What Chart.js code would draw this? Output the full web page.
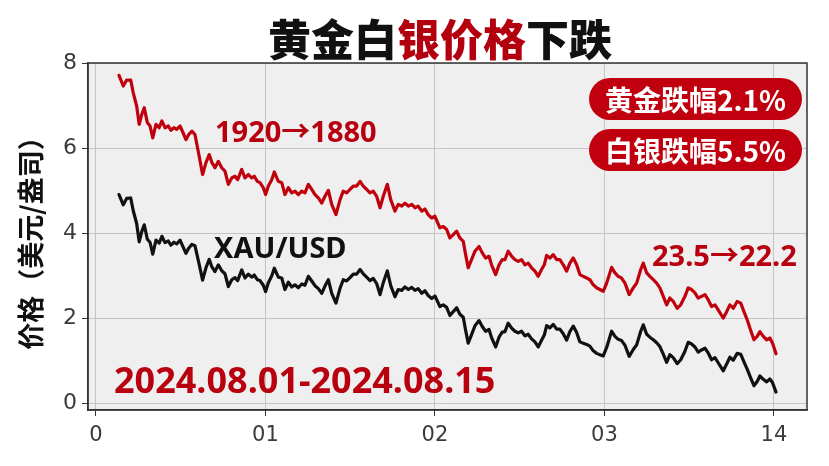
<!DOCTYPE html>
<html>
<head>
<meta charset="utf-8">
<script src="https://cdn.jsdelivr.net/npm/chart.js@4.4.1/dist/chart.umd.min.js"></script>
<style>
  html, body { margin:0; padding:0; background:#ffffff; }
  #wrap { position:relative; width:829px; height:466px; overflow:hidden; }
  canvas { position:absolute; left:0; top:0; }
  .t { position:absolute; white-space:nowrap; line-height:1; }
  #title { left:440px; top:16px; transform:translateX(-50%); font-family:"Noto Sans CJK SC"; font-weight:900; font-size:43px; color:#111; }
  #title .r { color:#b3000e; }
  .ann { font-family:"Noto Sans","Noto Sans CJK SC",sans-serif; font-weight:700; font-size:29px; }
  .red { color:#b8000f; }
  .blk { color:#111; }
  .badge { position:absolute; left:589px; width:213px; height:42px; border-radius:21px; background:#c0000e; color:#fff;
           font-family:"Noto Sans CJK SC"; font-weight:700; font-size:28px; line-height:42px; text-align:center; white-space:nowrap; }
</style>
</head>
<body>
<div id="wrap">
  <canvas id="c" width="829" height="466"></canvas>
  <div id="title" class="t">黄金白<span class="r">银价格</span>下跌</div>
  <div class="badge" style="top:78px;">黄金跌幅2.1%</div>
  <div class="badge" style="top:129px;">白银跌幅5.5%</div>
  <div class="t ann red" style="left:215px; top:116px;">1920→1880</div>
  <div class="t ann blk" style="left:214px; top:232px;">XAU/USD</div>
  <div class="t ann red" style="left:652px; top:240px;">23.5→22.2</div>
  <div class="t ann red" style="left:114px; top:362px; font-size:36px;">2024.08.01-2024.08.15</div>
</div>
<script>
const xTickLabels = ['0', '01', '02', '03', '14'];
const yAxisTitle = '价格（美元/盎司）';

const dayPos = [
  0.136,0.161,0.181,0.205,0.220,0.240,0.255,0.270,0.285,0.303,
  0.319,0.335,0.354,0.373,0.389,0.407,0.427,0.442,0.460,0.476,
  0.496,0.515,0.531,0.547,0.566,0.584,0.609,0.629,0.649,0.668,
  0.684,0.702,0.722,0.742,0.761,0.781,0.801,0.820,0.836,0.860,
  0.879,0.899,0.919,0.934,0.952,0.968,0.987,1.001,1.017,1.037,
  1.052,1.076,1.096,1.115,1.135,1.155,1.174,1.194,1.214,1.233,
  1.253,1.273,1.292,1.312,1.332,1.351,1.371,1.391,1.416,1.440,
  1.459,1.479,1.499,1.518,1.538,1.558,1.577,1.597,1.617,1.636,
  1.656,1.676,1.695,1.719,1.739,1.764,1.783,1.804,1.823,1.843,
  1.863,1.882,1.901,1.922,1.941,1.960,1.981,2.000,2.029,2.049,
  2.069,2.088,2.108,2.128,2.147,2.167,2.181,2.196,2.216,2.236,
  2.260,2.279,2.299,2.319,2.334,2.358,2.378,2.397,2.413,2.432,
  2.453,2.472,2.491,2.511,2.531,2.550,2.570,2.590,2.609,2.629,
  2.645,2.659,2.678,2.698,2.718,2.737,2.757,2.777,2.796,2.816,
  2.836,2.855,2.875,2.895,2.914,2.934,2.954,2.973,2.993,3.013,
  3.042,3.062,3.081,3.101,3.121,3.146,3.170,3.190,3.214,3.229,
  3.249,3.268,3.288,3.308,3.327,3.347,3.367,3.386,3.406,3.429,
  3.450,3.475,3.494,3.514,3.534,3.553,3.573,3.593,3.612,3.632,
  3.652,3.671,3.701,3.721,3.740,3.760,3.783,3.804,3.823,3.842,
  3.862,3.882,3.901,3.917,3.937,3.957,3.976,3.992,4.012
];

const redSeries = [
  7.71,7.46,7.60,7.60,7.30,6.99,6.56,6.79,6.95,6.60,
  6.52,6.24,6.56,6.48,6.64,6.48,6.52,6.42,6.48,6.44,
  6.52,6.35,6.20,6.32,6.40,6.32,5.81,5.38,5.66,5.85,
  5.66,5.54,5.69,5.54,5.46,5.15,5.30,5.34,5.26,5.50,
  5.30,5.38,5.30,5.34,5.22,5.19,5.07,4.91,5.11,5.26,
  5.44,5.22,5.19,4.91,5.07,4.95,4.99,4.91,4.99,4.95,
  5.15,5.03,4.91,4.83,4.71,4.87,5.01,4.68,4.44,4.79,
  4.99,4.95,5.03,5.11,5.11,5.22,5.11,5.03,4.95,4.99,
  4.87,4.60,4.87,5.15,4.79,4.52,4.68,4.64,4.71,4.64,
  4.68,4.60,4.64,4.52,4.57,4.44,4.36,4.40,4.13,4.16,
  4.09,3.89,3.97,4.05,3.89,3.81,3.50,3.19,3.38,3.58,
  3.69,3.54,3.42,3.46,3.26,3.03,3.26,3.38,3.38,3.58,
  3.46,3.38,3.34,3.38,3.26,3.30,3.19,3.11,2.99,3.15,
  3.26,3.48,3.42,3.50,3.38,3.38,3.26,3.11,3.30,3.42,
  3.26,3.03,2.99,2.95,2.91,2.79,2.72,2.68,2.64,2.83,
  3.20,3.07,2.99,2.95,2.83,2.56,2.72,2.83,3.15,3.30,
  3.07,2.99,2.91,2.83,2.72,2.52,2.32,2.48,2.40,2.24,
  2.32,2.52,2.72,2.68,2.60,2.48,2.52,2.56,2.44,2.28,
  2.32,2.20,2.01,2.16,2.32,2.24,2.40,2.36,2.16,1.97,
  1.73,1.50,1.58,1.69,1.58,1.50,1.54,1.42,1.17
];

const blackSeries = [
  4.91,4.67,4.82,4.83,4.53,4.23,3.80,4.04,4.20,3.86,
  3.79,3.51,3.84,3.77,3.93,3.78,3.82,3.72,3.79,3.75,
  3.84,3.67,3.53,3.65,3.74,3.71,3.27,2.90,3.19,3.39,
  3.21,3.10,3.26,3.12,3.05,2.75,2.91,2.96,2.89,3.14,
  2.95,3.04,2.97,3.02,2.91,2.89,2.78,2.63,2.84,3.00,
  3.18,2.97,2.95,2.68,2.85,2.74,2.79,2.72,2.81,2.78,
  2.99,2.88,2.77,2.70,2.59,2.76,2.91,2.59,2.36,2.71,
  2.91,2.88,2.96,3.04,3.04,3.15,3.05,2.97,2.89,2.94,
  2.82,2.56,2.84,3.12,2.77,2.51,2.68,2.66,2.74,2.68,
  2.73,2.66,2.70,2.59,2.65,2.54,2.47,2.53,2.28,2.32,
  2.26,2.07,2.16,2.25,2.10,2.03,1.72,1.42,1.62,1.83,
  1.95,1.81,1.70,1.74,1.55,1.33,1.56,1.68,1.69,1.89,
  1.77,1.70,1.66,1.70,1.59,1.63,1.52,1.45,1.33,1.49,
  1.61,1.83,1.78,1.86,1.75,1.75,1.64,1.49,1.69,1.82,
  1.67,1.45,1.42,1.39,1.35,1.24,1.18,1.15,1.12,1.32,
  1.70,1.58,1.51,1.48,1.37,1.11,1.27,1.38,1.70,1.85,
  1.63,1.56,1.50,1.43,1.34,1.16,0.97,1.15,1.08,0.94,
  1.03,1.23,1.44,1.40,1.33,1.21,1.26,1.30,1.19,1.03,
  1.08,0.96,0.77,0.93,1.09,1.02,1.18,1.16,0.98,0.81,
  0.61,0.42,0.52,0.65,0.57,0.51,0.58,0.49,0.27
];

const toPoints = vals => dayPos.map((x, i) => ({ x: x, y: vals[i] }));

const plotFrame = {
  id: 'plotFrame',
  beforeDraw(chart) {
    const a = chart.chartArea, ctx = chart.ctx;
    ctx.save();
    ctx.fillStyle = '#efefef';
    ctx.fillRect(a.left, a.top, a.right - a.left, a.bottom - a.top);
    ctx.restore();
  },
  afterDraw(chart) {
    const a = chart.chartArea, ctx = chart.ctx;
    ctx.save();
    ctx.strokeStyle = '#333';
    ctx.lineWidth = 1.5;
    ctx.strokeRect(a.left, a.top, a.right - a.left, a.bottom - a.top);
    ctx.restore();
  }
};

new Chart(document.getElementById('c'), {
  type: 'line',
  data: {
    datasets: [
      { label: '1920→1880', data: toPoints(redSeries), borderColor: '#c0000c', borderWidth: 3.2,
        pointRadius: 0, tension: 0, borderJoinStyle: 'round', borderCapStyle: 'round' },
      { label: 'XAU/USD', data: toPoints(blackSeries), borderColor: '#111111', borderWidth: 3.2,
        pointRadius: 0, tension: 0, borderJoinStyle: 'round', borderCapStyle: 'round' }
    ]
  },
  options: {
    responsive: false,
    animation: false,
    devicePixelRatio: 1,
    layout: { padding: { top: 63, right: 22, left: 0, bottom: 0 } },
    plugins: { legend: { display: false }, tooltip: { enabled: false }, title: { display: false } },
    scales: {
      x: {
        type: 'linear',
        min: -0.047, max: 4.195,
        afterFit(scale) { scale.height = 56; },
        ticks: {
          stepSize: 1, includeBounds: false, autoSkip: false, maxRotation: 0,
          padding: 7, color: '#3a3a3a',
          font: { family: 'DejaVu Sans', size: 21 },
          callback: v => (Number.isInteger(v) && xTickLabels[v] !== undefined) ? xTickLabels[v] : ''
        },
        grid: { color: '#c4c4c4', lineWidth: 1, tickColor: '#333', tickLength: 6 },
        border: { display: true, color: '#333', width: 1.5 }
      },
      y: {
        min: -0.15, max: 8,
        afterFit(scale) { scale.width = 88; },
        ticks: {
          stepSize: 2, includeBounds: false, padding: 5, color: '#3a3a3a',
          font: { family: 'DejaVu Sans', size: 22 }
        },
        grid: { color: '#c4c4c4', lineWidth: 1, tickColor: '#333', tickLength: 6 },
        border: { display: true, color: '#333', width: 1.5 },
        title: {
          display: true, text: yAxisTitle, color: '#111',
          font: { family: 'Noto Sans CJK SC', size: 27, weight: 'bold' },
          padding: { top: 15, bottom: 0 }
        }
      }
    }
  },
  plugins: [plotFrame]
});
</script>
</body>
</html>
